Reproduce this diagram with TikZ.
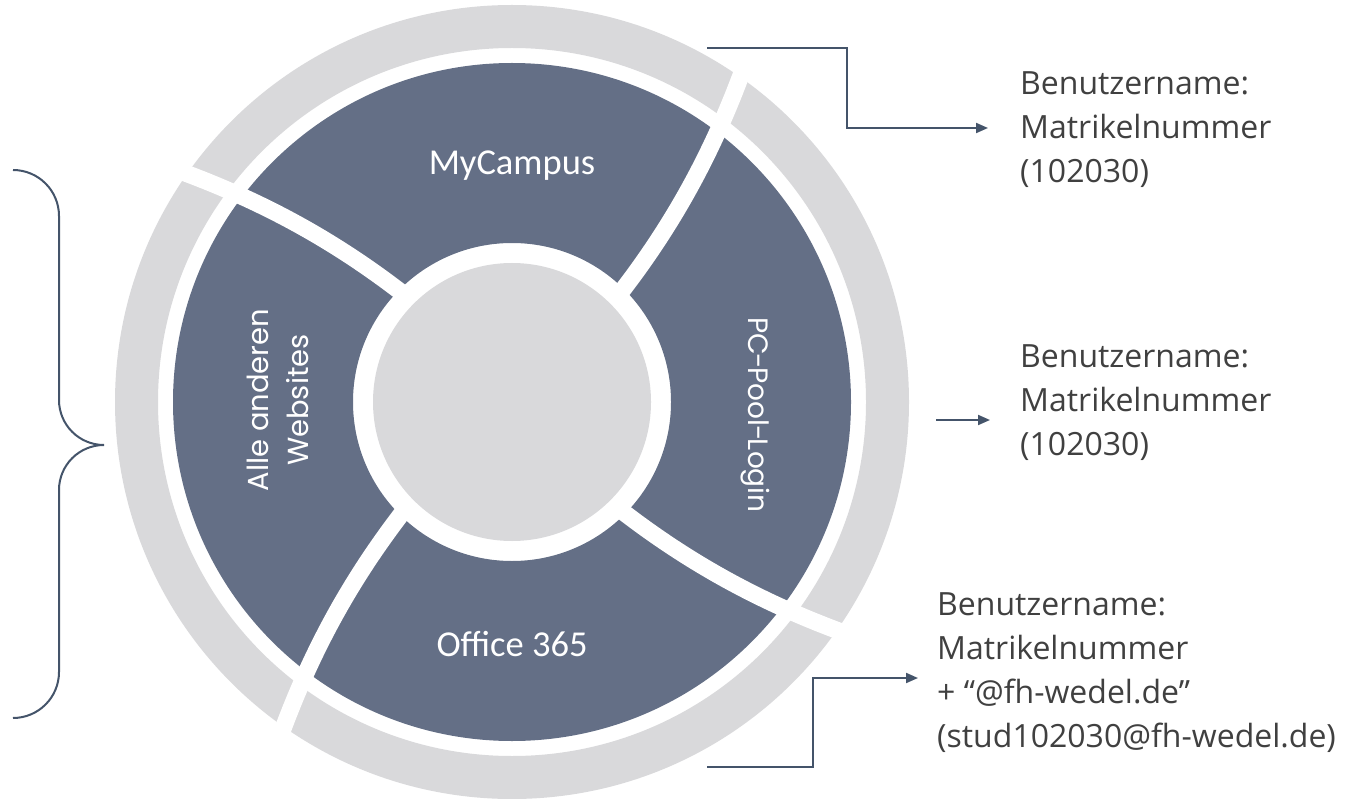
\documentclass[tikz,border=0pt]{standalone}
\usepackage{fontspec}
\setmainfont{Open Sans}
\newfontfamily\calfont{Carlito}
\newfontfamily\geofont{Poppins}
\usetikzlibrary{arrows.meta,calc}
\definecolor{segdark}{RGB}{100,111,134}
\definecolor{ringgray}{RGB}{217,217,219}
\definecolor{slate}{RGB}{68,84,106}
\definecolor{txtgray}{RGB}{64,64,64}
\tikzset{
  conn/.style={draw=slate, line width=2pt, -{Triangle[length=12pt,width=10pt]}},
  plainconn/.style={draw=slate, line width=2pt},
  segtext/.style={text=white, inner sep=0pt, font=\calfont\fontsize{36.5}{44}\selectfont},
  rottext/.style={text=white, inner sep=0pt, align=center, font=\geofont\fontsize{29}{40}\selectfont},
  infotext/.style={text=txtgray, inner sep=0pt, align=left, anchor=north west, font=\fontsize{32}{44}\selectfont},
  sepline/.style={draw=white, line width=17pt}
}
\begin{document}
\begin{tikzpicture}[x=1pt,y=1pt]
\useasboundingbox (0,0) rectangle (1367,-799);
\coordinate (C) at (512,-402);
% rings
\fill[ringgray, even odd rule] (C) circle (397) (C) circle (354);
\fill[segdark, even odd rule] (C) circle (339) (C) circle (159);
\fill[ringgray] (C) circle (139);
% separators
\foreach \a in {0,90,180,270}{
  \begin{scope}[shift={(C)}, rotate=\a]
    \draw[sepline] (106,106) .. controls (162,178) and (201,250) .. (232,335);
  \end{scope}
}
% segment labels
\node[segtext] (mc) at (512,-166) {MyCampus};
\node[segtext] (of) at (512,-644) {Office 365};
\node[rottext, rotate=-90, font=\geofont\fontsize{28}{40}\selectfont] (pc) at (755,-415) {PC\kern-1.5pt-\kern-1.5pt Pool\kern-1.5pt-\kern-1.5pt Login};
\node[rottext, rotate=90] (aw) at (278,-400) {Alle anderen\\Websites};
% info texts
\node[infotext] (i1) at (1020,-71) {Benutzername:\\Matrikelnummer\\(102030)};
\node[infotext] (i2) at (1020,-344) {Benutzername:\\Matrikelnummer\\(102030)};
\node[infotext] (i3) at (937,-592) {Benutzername:\\Matrikelnummer\\+ “@fh-wedel.de”\\(stud102030@fh-wedel.de)};
% connectors
\coordinate (a1s) at (707,-48);
\coordinate (a1e) at (988,-128);
\draw[conn] (a1s) -- ++(140,0) |- (a1e);
\coordinate (a2s) at (936,-420);
\coordinate (a2e) at (990,-420);
\draw[conn] (a2s) -- (a2e);
\coordinate (a3s) at (707,-767);
\coordinate (a3e) at (918,-678);
\draw[conn] (a3s) -- ++(106,0) |- (a3e);
% brace
\draw[plainconn] (13,-170) arc[start angle=90,end angle=0,radius=46] -- (59,-400)
  arc[start angle=180,end angle=270,radius=45]
  arc[start angle=90,end angle=180,radius=45] -- (59,-672)
  arc[start angle=0,end angle=-90,radius=46];
\end{tikzpicture}
\end{document}
